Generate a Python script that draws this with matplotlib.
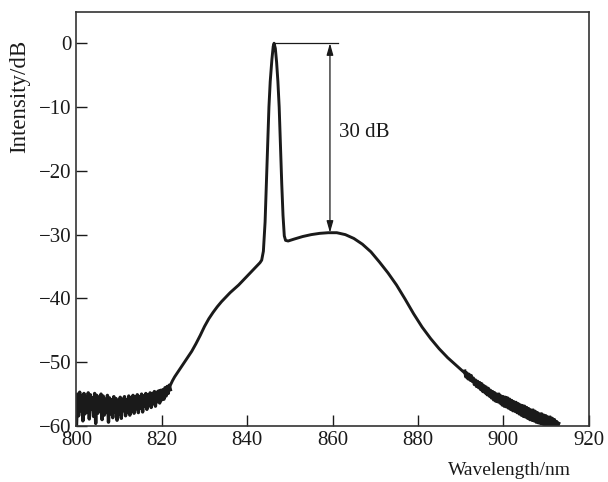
import matplotlib
matplotlib.use("Agg")
import matplotlib.pyplot as plt
import numpy as np

plt.rcParams['font.family'] = ['Liberation Serif', 'DejaVu Serif']

# noisy floor on the short-wavelength side, sampled every 0.25 nm from 800 nm
db_left = [-59.9, -55.0, -58.4, -54.7, -57.6, -55.3, -59.2, -54.9, -58.1, -55.4,
           -57.8, -54.8, -58.9, -55.1, -57.3, -55.6, -58.5, -54.9, -59.6, -55.2,
           -58.0, -55.5, -57.6, -55.0, -59.0, -55.3, -58.3, -55.8, -57.9, -55.2,
           -59.4, -55.6, -58.1, -55.9, -58.7, -55.4, -57.8, -55.7, -59.1, -56.0,
           -58.2, -55.5, -58.8, -55.8, -57.6, -55.4, -58.4, -55.9, -57.9, -55.3,
           -58.3, -55.6, -57.5, -55.2, -58.0, -55.5, -57.3, -55.1, -57.9, -55.4,
           -57.2, -55.0, -57.8, -55.3, -56.9, -54.9, -57.4, -55.1, -56.7, -54.8,
           -57.1, -54.9, -56.5, -54.6, -56.9, -54.7, -56.2, -54.5, -56.4, -54.4,
           -55.9, -54.3, -55.8, -54.0, -55.3, -53.8, -54.9, -53.6, -54.3]
wl_left = np.arange(len(db_left)) * 0.25 + 800.0

# smooth ASE background and the lasing peak
wl_mid = [822.0, 822.5, 823.0, 824.0, 825.0, 826.0, 827.0, 828.0, 829.0, 830.0,
          831.0, 832.0, 833.0, 834.0, 835.0, 836.0, 837.0, 838.0, 839.0, 840.0,
          841.0, 842.0, 843.0, 843.4, 843.8, 844.2, 844.5, 844.8, 845.1, 845.4,
          845.8, 846.1, 846.3, 846.6, 846.9, 847.2, 847.5, 847.8, 848.1, 848.4,
          848.7, 849.0, 849.6, 851.0, 853.0, 855.0, 857.0, 859.0, 861.0, 863.0,
          865.0, 867.0, 869.0, 871.0, 873.0, 875.0, 877.0, 879.0, 881.0, 883.0,
          885.0, 887.0, 889.0, 891.0]
db_mid = [-53.6, -52.9, -52.3, -51.3, -50.3, -49.3, -48.3, -47.1, -45.8, -44.4,
          -43.2, -42.2, -41.3, -40.5, -39.8, -39.1, -38.5, -37.9, -37.2, -36.5,
          -35.8, -35.1, -34.4, -34.0, -32.6, -28.0, -22.0, -16.0, -10.0, -6.0,
          -2.5, -0.5, 0.0, -0.8, -3.0, -6.0, -10.0, -16.0, -22.0, -27.0,
          -30.2, -30.9, -31.0, -30.7, -30.3, -30.0, -29.8, -29.7, -29.7, -30.0,
          -30.6, -31.5, -32.7, -34.3, -36.0, -37.9, -40.1, -42.4, -44.5, -46.3,
          -47.9, -49.3, -50.5, -51.7]

# noisy tail on the long-wavelength side, sampled every 0.25 nm from 891 nm
db_right = [-51.4, -52.3, -51.7, -52.6, -51.9, -52.8, -52.1, -53.0,
            -52.5, -53.5, -52.8, -53.8, -53.0, -54.0, -53.2, -54.3,
            -53.4, -54.6, -53.7, -54.8, -53.9, -55.1, -54.1, -55.3,
            -54.4, -55.6, -54.6, -55.9, -54.8, -56.1, -55.0, -56.2,
            -55.0, -56.4, -55.3, -56.7, -55.4, -56.9, -55.5, -57.0,
            -55.6, -57.2, -55.8, -57.4, -56.0, -57.6, -56.2, -57.7,
            -56.3, -57.9, -56.5, -58.1, -56.7, -58.3, -56.8, -58.5,
            -56.9, -58.6, -57.1, -58.8, -57.3, -59.0, -57.5, -59.1,
            -57.5, -59.2, -57.7, -59.4, -57.9, -59.5, -58.1, -59.6,
            -58.1, -59.7, -58.3, -59.8, -58.4, -59.9, -58.6, -60.0,
            -58.6, -60.0, -58.8, -60.0, -59.0, -60.0, -59.3, -60.0,
            -59.6]
wl_right = np.arange(len(db_right)) * 0.25 + 891.0

peak_wl = 846.3
arrow_wl = 859.4
arrow_low = -29.7

ink = '#1a1a1a'
fig = plt.figure(figsize=(6.08, 4.82), dpi=100)
ax = fig.add_axes([0.1258, 0.1162, 0.8422, 0.8589])

ax.plot(wl_mid, db_mid, color=ink, lw=2.1, solid_joinstyle='round')
ax.plot(wl_left, db_left, color=ink, lw=2.4)
ax.plot(wl_right, db_right, color=ink, lw=2.4)

# 30 dB marker
ax.plot([peak_wl, 861.2], [0, 0], color=ink, lw=0.9)
ax.annotate('', xy=(arrow_wl, arrow_low), xytext=(arrow_wl, 0),
            arrowprops=dict(arrowstyle='<|-|>,head_length=0.7,head_width=0.2',
                            color=ink, lw=0.9, shrinkA=0, shrinkB=0))
ax.text(861.6, -14, '30 dB', fontsize=15, va='center', ha='left', color=ink)

ax.set_xlim(800, 920)
ax.set_ylim(-60, 4.9)
ax.set_xticks(range(800, 921, 20))
ax.set_yticks(range(-60, 1, 10))
ax.tick_params(direction='in', length=8, width=1, labelsize=15, colors=ink,
               top=False, right=False)
for s in ax.spines.values():
    s.set_linewidth(1.2)
    s.set_color('#333333')

ax.set_xlabel('Wavelength/nm', fontsize=14, loc='right', color=ink)
ax.xaxis.set_label_coords(0.966, -0.088)
ax.set_ylabel('Intensity/dB', fontsize=16.5, loc='top', color=ink)
ax.yaxis.set_label_coords(-0.091, 0.932)

fig.savefig('out.png', dpi=100)
